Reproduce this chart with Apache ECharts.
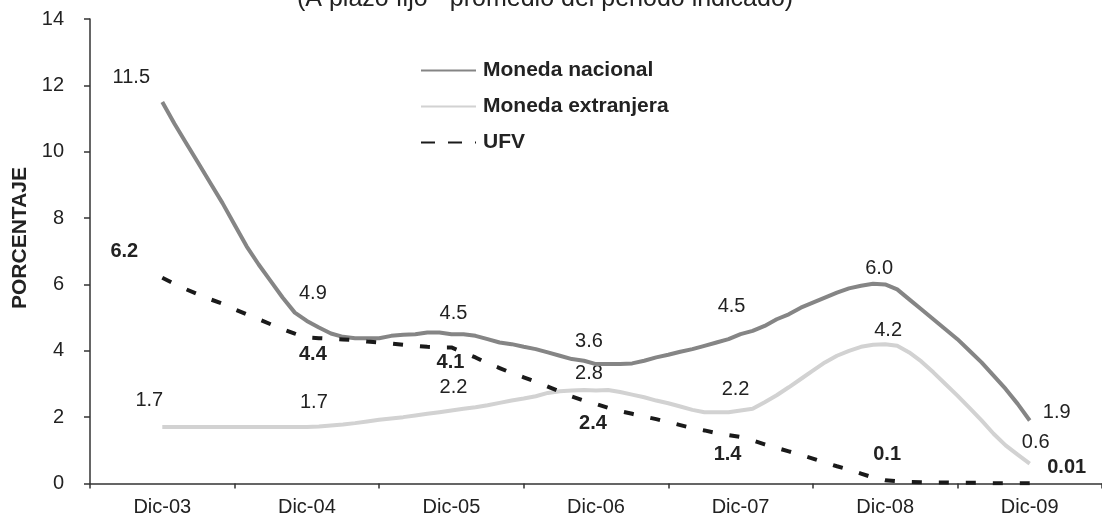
<!DOCTYPE html>
<html>
<head>
<meta charset="utf-8">
<style>
  html, body { margin: 0; padding: 0; background: #fff; }
  #main { width: 1102px; height: 521px; }
</style>
<script src="https://cdn.jsdelivr.net/npm/echarts@6/dist/echarts.min.js"></script>
</head>
<body>
<div id="main"></div>
<script>
// meses del eje (Jun-03 a Jun-10), etiquetas solo en diciembre
var mesesNombre = ['Ene','Feb','Mar','Abr','May','Jun','Jul','Ago','Sep','Oct','Nov','Dic'];
var meses = [];
for (var a = 3; a <= 10; a++) {
  for (var k = 0; k < 12; k++) {
    if ((a === 3 && k < 5) || (a === 10 && k > 5)) continue;
    meses.push(mesesNombre[k] + '-' + (a < 10 ? '0' + a : a));
  }
}
var inicio = meses.indexOf('Dic-03');   // primer dato

// tasas mensuales Dic-03 .. Dic-09 (%)
var monedaNacional = [
  11.5, 10.85, 10.25, 9.65, 9.05, 8.45, 7.8, 7.15, 6.6, 6.1, 5.6, 5.15, 4.9,
  4.7, 4.52, 4.42, 4.38, 4.38, 4.38, 4.45, 4.48, 4.5, 4.55, 4.55, 4.5,
  4.5, 4.45, 4.35, 4.25, 4.2, 4.12, 4.05, 3.95, 3.85, 3.75, 3.7, 3.6,
  3.6, 3.6, 3.62, 3.7, 3.8, 3.88, 3.97, 4.05, 4.15, 4.25, 4.35, 4.5,
  4.6, 4.75, 4.95, 5.1, 5.3, 5.45, 5.6, 5.75, 5.88, 5.96, 6.02, 6.0,
  5.85, 5.55, 5.25, 4.95, 4.65, 4.35, 4.0, 3.65, 3.25, 2.85, 2.4, 1.9
];
var monedaExtranjera = [
  1.7, 1.7, 1.7, 1.7, 1.7, 1.7, 1.7, 1.7, 1.7, 1.7, 1.7, 1.7, 1.7,
  1.72, 1.75, 1.78, 1.82, 1.87, 1.92, 1.96, 2.0, 2.05, 2.1, 2.15, 2.2,
  2.25, 2.3, 2.36, 2.43, 2.5, 2.56, 2.63, 2.73, 2.78, 2.8, 2.82, 2.8,
  2.82, 2.76, 2.68, 2.6, 2.5, 2.42, 2.32, 2.22, 2.15, 2.15, 2.15, 2.2,
  2.25, 2.45, 2.66, 2.9, 3.15, 3.4, 3.65, 3.85, 4.0, 4.12, 4.18, 4.2,
  4.15, 3.95, 3.68, 3.35, 3.0, 2.65, 2.28, 1.9, 1.5, 1.15, 0.87, 0.6
];
var ufv = [
  6.2, 6.02, 5.85, 5.7, 5.55, 5.42, 5.25, 5.1, 4.95, 4.8, 4.65, 4.52, 4.4,
  4.38, 4.36, 4.34, 4.32, 4.28, 4.25, 4.22, 4.18, 4.15, 4.12, 4.1, 4.1,
  3.95, 3.8, 3.62, 3.48, 3.33, 3.2, 3.07, 2.92, 2.77, 2.62, 2.5, 2.4,
  2.28, 2.18, 2.1, 2.02, 1.94, 1.85, 1.76, 1.67, 1.6, 1.52, 1.46, 1.4,
  1.3, 1.18, 1.07, 0.97, 0.86, 0.75, 0.63, 0.52, 0.42, 0.3, 0.18, 0.1,
  0.07, 0.05, 0.04, 0.03, 0.03, 0.02, 0.02, 0.02, 0.01, 0.01, 0.01, 0.01
];

// posición de las etiquetas de valor (mes desde Dic-03 -> desplazamiento)
var etiquetasMN  = {0: [-31, -24], 12: [6, -27], 24: [2, -21], 36: [-7, -23], 48: [-9, -28], 60: [-6, -16], 72: [27, -8]};
var etiquetasME  = {0: [-13, -27], 12: [7, -25], 24: [2, -23], 36: [-7, -17], 48: [-5, -21], 60: [3, -14], 72: [6, -21]};
var etiquetasUFV = {0: [-38, -26], 12: [6, 17], 24: [-1, 15], 36: [-3, 20], 48: [-13, 17], 60: [2, -26], 72: [37, -16]};

var fuente = '"Liberation Sans", Arial, sans-serif';

function armar(valores, etiquetas, negrita) {
  return valores.map(function (v, i) {
    var item = { value: [inicio + i, v] };
    if (etiquetas[i]) {
      item.label = {
        show: true,
        position: 'inside',
        offset: etiquetas[i],
        fontWeight: negrita ? 'bold' : 'normal'
      };
    }
    return item;
  });
}

function formato(p) {
  var v = p.value[1];
  return v < 0.1 ? String(v) : v.toFixed(1);
}

var myChart = echarts.init(document.getElementById('main'));

var option = {
  animation: false,
  backgroundColor: '#fff',
  textStyle: { fontFamily: fuente },
  graphic: [
    {
      type: 'text', left: 297, top: -13,
      style: { text: '(A plazo fijo - promedio del periodo indicado)', font: '25px ' + fuente, fill: '#222' }
    },
    {
      type: 'text', x: 20, y: 238, rotation: Math.PI / 2,
      style: { text: 'PORCENTAJE', font: 'bold 21px ' + fuente, fill: '#222', align: 'center', verticalAlign: 'middle' }
    }
  ],
  legend: {
    orient: 'vertical',
    left: 420,
    top: 60,
    itemWidth: 55,
    itemHeight: 14,
    itemGap: 15,
    padding: 0,
    textStyle: { fontFamily: fuente, fontSize: 21, fontWeight: 'bold', color: '#222', padding: [0, 0, 0, 2] },
    data: [
      { name: 'Moneda nacional' },
      { name: 'Moneda extranjera' },
      { name: 'UFV', lineStyle: { type: [14, 13] } }
    ]
  },
  grid: { left: 90, right: -5, top: 19, bottom: 37.5 },
  xAxis: {
    type: 'category',
    data: meses,
    boundaryGap: false,
    axisLine: { lineStyle: { color: '#333', width: 1.5 } },
    axisTick: { length: 5, interval: function (i) { return i % 12 === 0; }, lineStyle: { color: '#333', width: 1.5 } },
    axisLabel: {
      interval: function (i) { return i % 12 === 6; },
      margin: 14, fontSize: 20, color: '#222', fontFamily: fuente
    },
    splitLine: { show: false }
  },
  yAxis: {
    type: 'value',
    min: 0, max: 14, interval: 2,
    axisLine: { show: true, lineStyle: { color: '#333', width: 1.5 } },
    axisTick: { show: true, length: 6, lineStyle: { color: '#333', width: 1.5 } },
    axisLabel: { margin: 26, fontSize: 20, color: '#222', fontFamily: fuente },
    splitLine: { show: false }
  },
  series: [
    {
      name: 'Moneda nacional', type: 'line',
      data: armar(monedaNacional, etiquetasMN, false),
      symbol: 'circle', symbolSize: 1, showSymbol: true,
      itemStyle: { color: 'transparent' },
      lineStyle: { color: '#858585', width: 4 },
      label: { formatter: formato, fontSize: 20, color: '#222', fontFamily: fuente },
      z: 3
    },
    {
      name: 'Moneda extranjera', type: 'line',
      data: armar(monedaExtranjera, etiquetasME, false),
      symbol: 'circle', symbolSize: 1, showSymbol: true,
      itemStyle: { color: 'transparent' },
      lineStyle: { color: '#d2d2d2', width: 4 },
      label: { formatter: formato, fontSize: 20, color: '#222', fontFamily: fuente },
      z: 2
    },
    {
      name: 'UFV', type: 'line',
      data: armar(ufv, etiquetasUFV, true),
      symbol: 'circle', symbolSize: 1, showSymbol: true,
      itemStyle: { color: 'transparent' },
      lineStyle: { color: '#1a1a1a', width: 4, type: [10, 17], cap: 'butt' },
      label: { formatter: formato, fontSize: 20, color: '#222', fontFamily: fuente },
      z: 4
    }
  ]
};

myChart.setOption(option);
</script>
</body>
</html>
